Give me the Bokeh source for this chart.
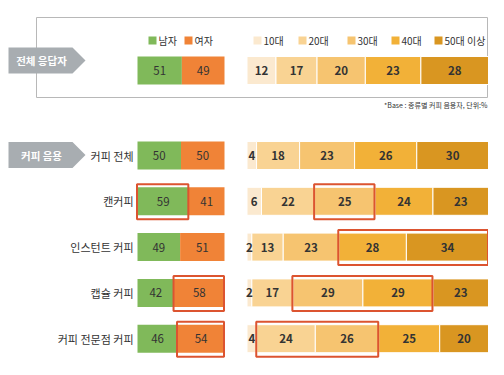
from bokeh.plotting import figure
from bokeh.models import ColumnDataSource, Range1d
from bokeh.core.properties import value
from bokeh.embed import file_html
from bokeh.resources import INLINE

# ---------------- data ----------------
gender_labels = ["남자", "여자"]
age_labels = ["10대", "20대", "30대", "40대", "50대 이상"]

total_gender = [51, 49]
total_age = [12, 17, 20, 23, 28]

categories = ["커피 전체", "캔커피", "인스턴트 커피", "캡슐 커피", "커피 전문점 커피"]
male = [50, 59, 49, 42, 46]
female = [50, 41, 51, 58, 54]
age10 = [4, 6, 2, 2, 4]
age20 = [18, 22, 13, 17, 24]
age30 = [23, 25, 23, 29, 26]
age40 = [26, 24, 28, 29, 25]
age50 = [30, 23, 34, 23, 20]

# (row, group, first segment, last segment) highlighted with red frames
highlights = [(1, "gender", 0, 0), (1, "age", 2, 2), (2, "age", 3, 4),
              (3, "gender", 1, 1), (3, "age", 2, 3),
              (4, "gender", 1, 1), (4, "age", 1, 2)]

title_total = "전체 응답자"
title_coffee = "커피 음용"
footnote = "*Base : 종류별 커피 음용자, 단위:%"

# ---------------- style ----------------
gender_colors = ["#80b95a", "#f08337"]
age_colors = ["#fbe9cf", "#f9d393", "#f6c470", "#f2b138", "#d99621"]
FONT = value("Noto Sans CJK KR")
TXT = "#333333"
RED = "#dc5430"
TAG = "#a8adb1"

GX0, GW = 137, 87
AX0, AW = 246.5, 241.5
BAR_H = 28
TOP_Y = 70
ROW_Y0, ROW_STEP = 155, 45.8

W, H = 488, 359
p = figure(width=W, height=H, x_range=Range1d(0, W), y_range=Range1d(H, 0),
           output_backend="svg", toolbar_location=None, min_border=0)
p.axis.visible = False
p.grid.visible = False
p.outline_line_color = None


def segs(vals, x0, w):
    tot = float(sum(vals))
    out = []
    acc = 0
    for v in vals:
        l = x0 + acc / tot * w
        acc += v
        r = x0 + acc / tot * w
        out.append((l, r))
    return out


def draw_bar(vals, colors, x0, w, cy, sep, bold):
    s = segs(vals, x0, w)
    src = ColumnDataSource(dict(
        left=[a for a, b in s], right=[b for a, b in s],
        top=[cy - BAR_H / 2] * len(s), bottom=[cy + BAR_H / 2] * len(s),
        color=colors[:len(s)], x=[(a + b) / 2 for a, b in s], y=[cy] * len(s),
        t=[str(v) for v in vals]))
    p.quad(left="left", right="right", top="top", bottom="bottom", source=src,
           fill_color="color", line_color="white" if sep else None, line_width=1)
    p.text(x="x", y="y", text="t", source=src, text_align="center",
           text_baseline="middle", text_font=FONT, text_font_size="11.5px",
           text_color=TXT, text_font_style="bold" if bold else "normal")
    return s


def tag(cy, label):
    p.patch(x=[8, 72, 85, 72, 8], y=[cy - 13, cy - 13, cy, cy + 13, cy + 13],
            fill_color=TAG, line_color=None)
    p.text(x=[41], y=[cy], text=[label], text_align="center", text_baseline="middle",
           text_font=FONT, text_font_size="10.5px", text_font_style="bold",
           text_color="white")


# top frame
p.quad(left=[36], right=[487], top=[17], bottom=[97], fill_color=None,
       line_color="#b8b8b8", line_width=1)
tag(60, title_total)

# legends
leg_g_x = [148, 184]
leg_a_x = [253, 298, 347, 391, 434]
p.quad(left=leg_g_x, right=[x + 8 for x in leg_g_x], top=[36] * 2, bottom=[44] * 2,
       fill_color=gender_colors, line_color=None)
p.text(x=[x + 10 for x in leg_g_x], y=[40] * 2, text=gender_labels, text_baseline="middle",
       text_font=FONT, text_font_size="10px", text_color=TXT)
p.quad(left=leg_a_x, right=[x + 8 for x in leg_a_x], top=[36] * 5, bottom=[44] * 5,
       fill_color=age_colors, line_color=None)
p.text(x=[x + 10 for x in leg_a_x], y=[40] * 5, text=age_labels, text_baseline="middle",
       text_font=FONT, text_font_size="10px", text_color=TXT)

draw_bar(total_gender, gender_colors, GX0, GW, TOP_Y, False, False)
draw_bar(total_age, age_colors, AX0, AW, TOP_Y, True, True)

p.text(x=[487], y=[104], text=[footnote], text_align="right", text_baseline="middle",
       text_font=FONT, text_font_size="7px", text_color=TXT)

# lower section
tag(ROW_Y0 - 0.5, title_coffee)
ages = list(zip(age10, age20, age30, age40, age50))
row_y = [ROW_Y0 + i * ROW_STEP for i in range(len(categories))]
p.text(x=[133] * len(categories), y=row_y, text=categories, text_align="right",
       text_baseline="middle", text_font=FONT, text_font_size="11px", text_color=TXT)

gseg, aseg = [], []
for i in range(len(categories)):
    gseg.append(draw_bar([male[i], female[i]], gender_colors, GX0, GW, row_y[i], False, False))
    aseg.append(draw_bar(list(ages[i]), age_colors, AX0, AW, row_y[i], True, True))

hl = dict(left=[], right=[], top=[], bottom=[])
for row, grp, a, b in highlights:
    s = gseg[row] if grp == "gender" else aseg[row]
    hl["left"].append(s[a][0] - 0.5)
    hl["right"].append(s[b][1] - 0.5)
    hl["top"].append(row_y[row] - BAR_H / 2 - 3)
    hl["bottom"].append(row_y[row] + BAR_H / 2 + 4)
p.quad(source=ColumnDataSource(hl), left="left", right="right", top="top", bottom="bottom",
       fill_color=None, line_color=RED, line_width=2)

open("out.html", "w").write(file_html(p, INLINE))
